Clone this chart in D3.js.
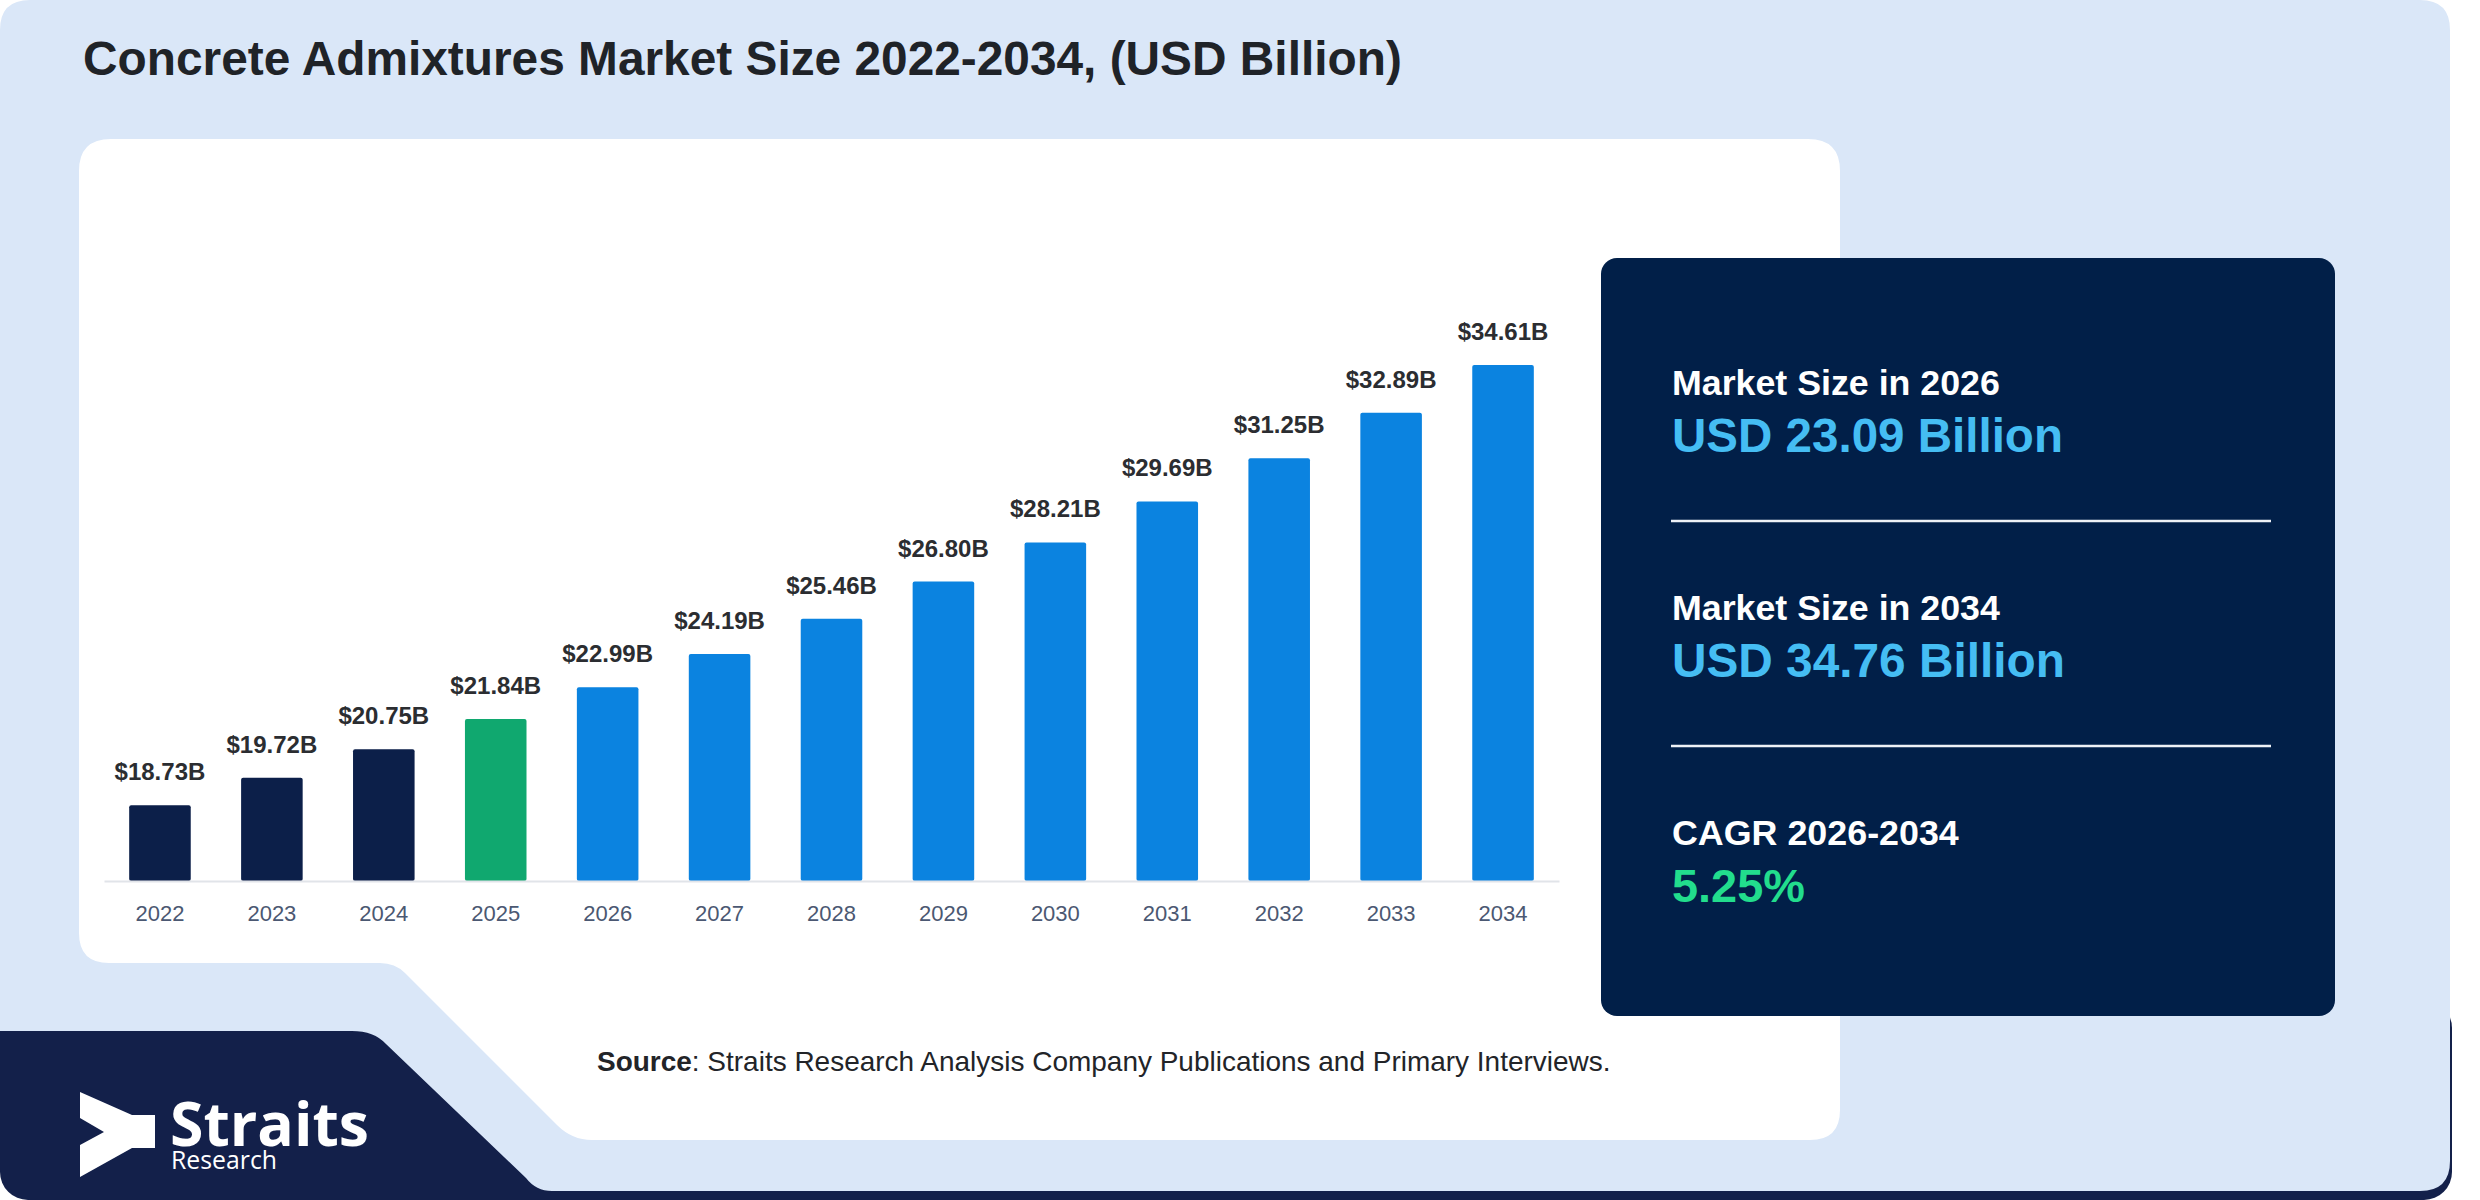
<!DOCTYPE html>
<html>
<head>
<meta charset="utf-8">
<script src="https://cdn.jsdelivr.net/npm/d3@7"></script>
<style>
  body { margin: 0; background: #ffffff; }
  svg { display: block; }
</style>
</head>
<body>
<svg id="chart" width="2480" height="1200"></svg>
<script>
// chart data
var years = ["2022", "2023", "2024", "2025", "2026", "2027", "2028", "2029", "2030", "2031", "2032", "2033", "2034"];
var values = [18.73, 19.72, 20.75, 21.84, 22.99, 24.19, 25.46, 26.80, 28.21, 29.69, 31.25, 32.89, 34.61];
var phases = ["hist", "hist", "hist", "base", "fcst", "fcst", "fcst", "fcst", "fcst", "fcst", "fcst", "fcst", "fcst"];
var phaseColors = { hist: "#0c1f49", base: "#10a86f", fcst: "#0b83e0" };

var titleText = "Concrete Admixtures Market Size 2022-2034, (USD Billion)";
var statLabels = ["Market Size in 2026", "Market Size in 2034", "CAGR 2026-2034"];
var statValues = ["USD 23.09 Billion", "USD 34.76 Billion", "5.25%"];
var statColors = ["#45bdf3", "#45bdf3", "#22dd8d"];

var FONT = "'Liberation Sans', Arial, sans-serif";
var svg = d3.select("#chart");

// shrink or grow a text so that it spans the given width
function fitWidth(sel, target) {
    var w = sel.node().getComputedTextLength();
    var fs = parseFloat(sel.attr("font-size"));
    sel.attr("font-size", (fs * target / w).toFixed(2));
}

// background: navy logo band, then the light panel on top
svg.append("rect")
    .attr("x", 0).attr("y", 1000)
    .attr("width", 2452).attr("height", 200)
    .attr("rx", 28)
    .attr("fill", "#13204a");

svg.append("path")
    .attr("d", "M0,30 Q0,0 30,0 H2420 Q2450,0 2450,30 V1161 Q2450,1191 2420,1191 " +
               "H552 Q536,1191 526,1178 L386,1044 Q374,1031 352,1031 H0 Z")
    .attr("fill", "#dae7f8");

// white chart card with the notch at bottom left
svg.append("path")
    .attr("d", "M79,171 Q79,139 111,139 H1808 Q1840,139 1840,171 V1110 Q1840,1140 1810,1140 " +
               "H592 Q572,1140 557,1125 L405,973 Q395,963 380,963 H109 Q79,963 79,933 Z")
    .attr("fill", "#ffffff");

// title
var title = svg.append("text")
    .attr("x", 83).attr("y", 75)
    .attr("font-family", FONT)
    .attr("font-weight", "bold")
    .attr("font-size", 48)
    .attr("fill", "#1f2328")
    .text(titleText);
fitWidth(title, 1319);

// scales
var x = d3.scaleBand()
    .domain(years)
    .range([104, 1559])
    .paddingInner(0.45)
    .paddingOuter(0.225);

var y = d3.scaleLinear()
    .domain([16, 34.61])
    .range([881, 365]);

var plot = svg.append("g");

plot.selectAll("rect.bar")
    .data(values)
    .enter()
    .append("rect")
    .attr("class", "bar")
    .attr("x", function(d, i) { return x(years[i]); })
    .attr("y", function(d) { return y(d); })
    .attr("width", x.bandwidth())
    .attr("height", function(d) { return y(16) - y(d); })
    .attr("rx", 2)
    .attr("fill", function(d, i) { return phaseColors[phases[i]]; });

plot.selectAll("text.val")
    .data(values)
    .enter()
    .append("text")
    .attr("class", "val")
    .attr("x", function(d, i) { return x(years[i]) + x.bandwidth() / 2; })
    .attr("y", function(d) { return y(d) - 25; })
    .attr("text-anchor", "middle")
    .attr("font-family", FONT)
    .attr("font-weight", "bold")
    .attr("font-size", 24)
    .attr("fill", "#2b2d31")
    .text(function(d) { return "$" + d.toFixed(2) + "B"; });

// x axis
var axis = plot.append("g")
    .attr("transform", "translate(0," + y(16) + ")")
    .call(d3.axisBottom(x).tickSize(0).tickSizeOuter(0));

axis.select(".domain")
    .attr("stroke", "#e1e4e9")
    .attr("stroke-width", 2);

axis.selectAll(".tick text")
    .attr("y", 40)
    .attr("dy", 0)
    .attr("font-family", FONT)
    .attr("font-size", 22)
    .attr("fill", "#4b5872");

// stats panel
svg.append("rect")
    .attr("x", 1601).attr("y", 258)
    .attr("width", 734).attr("height", 758)
    .attr("rx", 16)
    .attr("fill", "#011f48");

var labelWidths = [328, 328, 287];
var valueWidths = [391, 393, 133];

statLabels.forEach(function(lab, i) {
    var top = 395 + i * 225;
    var t1 = svg.append("text")
        .attr("x", 1672).attr("y", top)
        .attr("font-family", FONT)
        .attr("font-weight", "bold")
        .attr("font-size", 35)
        .attr("fill", "#ffffff")
        .text(lab);
    fitWidth(t1, labelWidths[i]);

    var t2 = svg.append("text")
        .attr("x", 1672).attr("y", top + 57)
        .attr("font-family", FONT)
        .attr("font-weight", "bold")
        .attr("font-size", 47)
        .attr("fill", statColors[i])
        .text(statValues[i]);
    fitWidth(t2, valueWidths[i]);

    if (i < statLabels.length - 1) {
        svg.append("line")
            .attr("x1", 1671).attr("x2", 2271)
            .attr("y1", top + 126).attr("y2", top + 126)
            .attr("stroke", "#eef1f6")
            .attr("stroke-width", 2.5);
    }
});

// source note
var src = svg.append("text")
    .attr("x", 597).attr("y", 1071)
    .attr("font-family", FONT)
    .attr("font-size", 26)
    .attr("fill", "#222428");
src.append("tspan").attr("font-weight", "bold").text("Source");
src.append("tspan").text(": Straits Research Analysis Company Publications and Primary Interviews.");
fitWidth(src, 1014);

// logo: mark plus a two-line word mark in one text
svg.append("polygon")
    .attr("points", "80,1092 132,1115 155,1115 155,1148 132,1148 80,1177 80,1145 104,1132 80,1118")
    .attr("fill", "#ffffff");

var logo = svg.append("text")
    .attr("font-family", "'Open Sans', sans-serif")
    .attr("fill", "#ffffff");

var logo1 = logo.append("tspan")
    .attr("x", 170).attr("y", 1146)
    .attr("font-weight", 700)
    .attr("font-size", 64)
    .text("Straits");
fitWidth(logo1, 199);

var logo2 = logo.append("tspan")
    .attr("x", 171).attr("y", 1169)
    .attr("font-weight", 400)
    .attr("font-size", 25)
    .text("Research");
fitWidth(logo2, 106);
</script>
</body>
</html>
